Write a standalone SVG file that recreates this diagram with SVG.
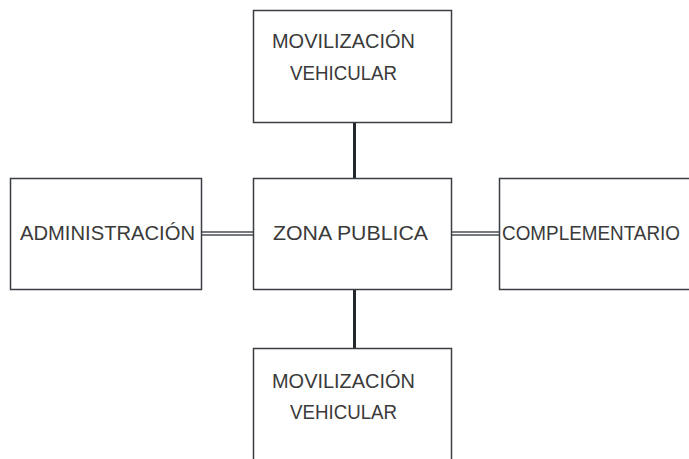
<svg xmlns="http://www.w3.org/2000/svg" width="689" height="459" viewBox="0 0 689 459">
<style>
.box{fill:#ffffff;stroke:#3a3d42;stroke-width:1.5}
.lbl{font-family:"Liberation Sans",Arial,sans-serif;font-size:21px;fill:#3a3a3a;font-weight:normal}
.v{stroke:#23272e;stroke-width:3;fill:none}
.dbl{stroke:#4a4e55;stroke-width:4.5;fill:none}
.dbli{stroke:#ffffff;stroke-width:1.5;fill:none}
</style>
<rect x="0" y="0" width="689" height="459" fill="#ffffff"/>
<g id="connectors">
<line class="v" x1="354.5" y1="122" x2="354.5" y2="178"/>
<line class="v" x1="354.5" y1="290" x2="354.5" y2="348"/>
<line class="dbl" x1="202" y1="233.5" x2="253" y2="233.5"/>
<line class="dbli" x1="202" y1="233.5" x2="253" y2="233.5"/>
<line class="dbl" x1="452" y1="233.5" x2="499" y2="233.5"/>
<line class="dbli" x1="452" y1="233.5" x2="499" y2="233.5"/>
</g>
<g id="mov-top">
<rect class="box" x="253.5" y="10.5" width="198" height="112"/>
<text class="lbl" x="272" y="48" textLength="143" lengthAdjust="spacingAndGlyphs">MOVILIZACIÓN</text>
<text class="lbl" x="290" y="80" textLength="107" lengthAdjust="spacingAndGlyphs">VEHICULAR</text>
</g>
<g id="zona-publica">
<rect class="box" x="253.5" y="178.5" width="198" height="111"/>
<text class="lbl" x="273" y="240" textLength="155" lengthAdjust="spacingAndGlyphs">ZONA PUBLICA</text>
</g>
<g id="administracion">
<rect class="box" x="10.5" y="178.5" width="191" height="111"/>
<text class="lbl" x="20" y="240" textLength="175" lengthAdjust="spacingAndGlyphs">ADMINISTRACIÓN</text>
</g>
<g id="complementario">
<rect class="box" x="499.5" y="178.5" width="200" height="111"/>
<text class="lbl" x="502" y="240" textLength="178" lengthAdjust="spacingAndGlyphs">COMPLEMENTARIO</text>
</g>
<g id="mov-bottom">
<rect class="box" x="253.5" y="348.5" width="198" height="130"/>
<text class="lbl" x="272" y="388" textLength="143" lengthAdjust="spacingAndGlyphs">MOVILIZACIÓN</text>
<text class="lbl" x="290" y="419" textLength="107" lengthAdjust="spacingAndGlyphs">VEHICULAR</text>
</g>
</svg>
